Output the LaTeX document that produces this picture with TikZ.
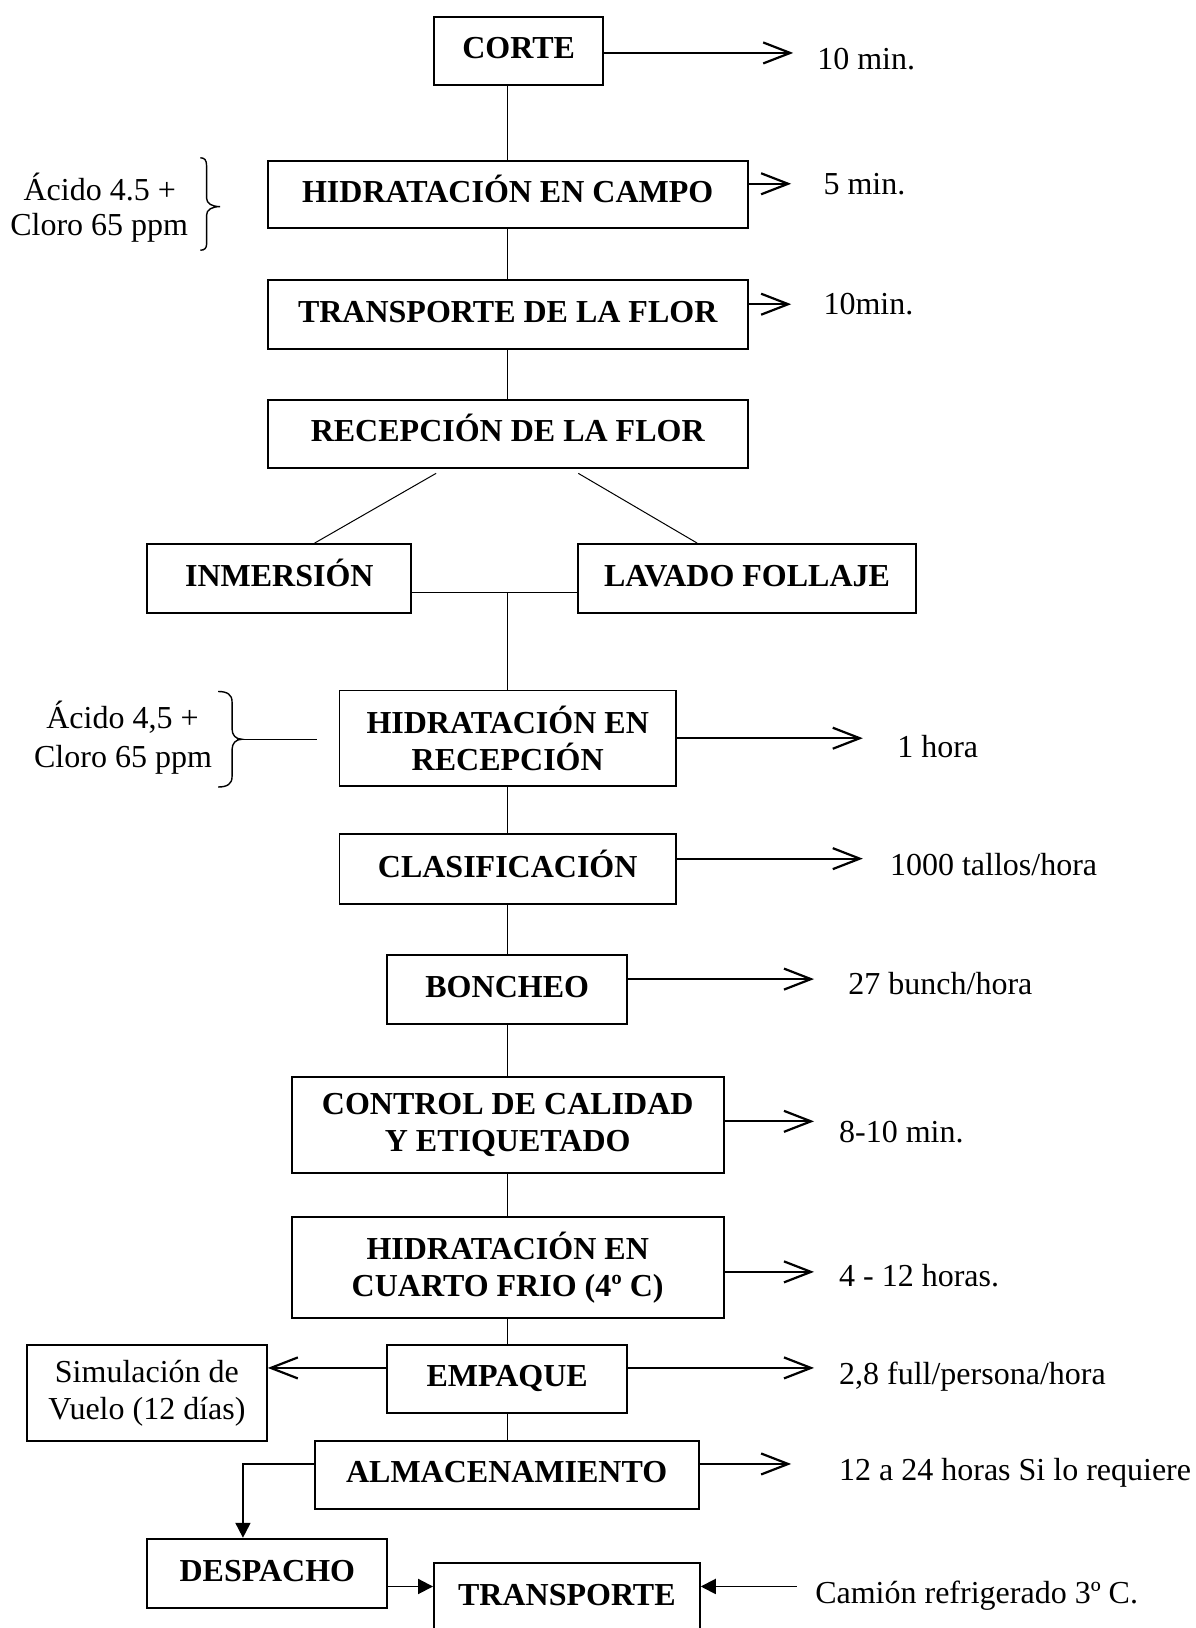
\documentclass[tikz,border=0pt]{standalone}
\usepackage{fontspec}
\setmainfont{Liberation Serif}
\usetikzlibrary{arrows.meta,calc}
\begin{document}
\begin{tikzpicture}[x=1.0382pt,y=-1.0382pt,
  box/.style={draw, line width=1.9pt, inner sep=0pt, align=center, font=\fontsize{32}{37}\selectfont\bfseries},
  bx/.style 2 args={box, minimum width=#1*1.0382pt, minimum height=#2*1.0382pt},
  sl/.style={text height=22pt, text depth=6pt},
  lbl/.style={inner sep=0pt, anchor=base west, font=\fontsize{32}{37}\selectfont},
  side/.style={inner sep=0pt, anchor=base, font=\fontsize{32}{37}\selectfont},
  conn/.style={line width=1pt},
  oarr/.style={line width=2.2pt, -{Straight Barb[length=27pt,width=21pt]}},
  farr/.style={line width=1.9pt, -{Triangle[length=15pt,width=15pt]}},
  brc/.style={line width=1.4pt}
]
\useasboundingbox (0,0) rectangle (1151,1568);
\clip (0,0) rectangle (1151,1568);

% boxes
\node[bx={163}{66}, sl] (corte) at (499.5,49) {CORTE};
\node[bx={462}{65}, sl] (hcampo) at (489,187.5) {HIDRATACIÓN EN CAMPO};
\node[bx={462}{66}, sl] (tflor) at (489,303) {TRANSPORTE DE LA FLOR};
\node[bx={462}{66}, sl] (recep) at (489,418) {RECEPCIÓN DE LA FLOR};
\node[bx={254}{66}, sl] (inm) at (269,557) {INMERSIÓN};
\node[bx={325}{66}, sl] (lav) at (719.5,557) {LAVADO FOLLAJE};
\node[bx={324}{92}] (hrec) at (489,711) {HIDRATACIÓN EN\\RECEPCIÓN};
\node[bx={324}{67}, sl] (clas) at (489,837) {CLASIFICACIÓN};
\node[bx={231}{66}, sl] (bonch) at (488.5,953) {BONCHEO};
\node[bx={416}{93}] (ctrl) at (489,1083.5) {CONTROL DE CALIDAD\\Y ETIQUETADO};
\node[bx={416}{97}] (hcuarto) at (489,1220.5) {HIDRATACIÓN EN\\CUARTO FRIO (4º C)};
\node[bx={231}{66}, sl] (emp) at (488.5,1328) {EMPAQUE};
\node[bx={231}{93}, font=\fontsize{32}{37}\selectfont\mdseries] (sim) at (141.5,1341.5) {Simulación de\\Vuelo (12 días)};
\node[bx={370}{65}, sl] (alm) at (488,1420.5) {ALMACENAMIENTO};
\node[bx={231}{67}, sl] (desp) at (257.5,1515.5) {DESPACHO};
\node[bx={256}{67}, sl] (transp) at (546,1538.5) {TRANSPORTE};

% main flow connectors
\draw[conn] (corte.south -| hcampo.north) -- (hcampo.north);
\draw[conn] (hcampo.south) -- (tflor.north);
\draw[conn] (tflor.south) -- (recep.north);
\draw[conn] ($(recep.south)+(-69,4)$) -- ($(inm.north)+(34,0)$);
\draw[conn] ($(recep.south)+(68,4)$) -- ($(lav.north)+(-48,0)$);
\coordinate (j) at (489,571);
\draw[conn] (inm.east |- j) -- (lav.west |- j);
\draw[conn] (j) -- (hrec.north);
\draw[conn] (hrec.south) -- (clas.north);
\draw[conn] (clas.south) -- (clas.south |- bonch.north);
\draw[conn] (clas.south |- bonch.south) -- (clas.south |- ctrl.north);
\draw[conn] (ctrl.south) -- (hcuarto.north);
\draw[conn] (hcuarto.south) -- (hcuarto.south |- emp.north);
\draw[conn] (hcuarto.south |- emp.south) -- (hcuarto.south |- alm.north);

% right arrows and labels
\coordinate (t1) at (764,51);
\draw[oarr] (corte.east |- t1) -- (t1);
\node[lbl] (l1) at (787,67) {10 min.};
\coordinate (t2) at (762,177);
\draw[oarr] (hcampo.east |- t2) -- (t2);
\node[lbl] (l2) at (793,187) {5 min.};
\coordinate (t3) at (762,293);
\draw[oarr] (tflor.east |- t3) -- (t3);
\node[lbl] (l3) at (793,303) {10min.};
\coordinate (t4) at (831,711);
\draw[oarr] (hrec.east |- t4) -- (t4);
\node[lbl] (l4) at (864,730) {1 hora};
\coordinate (t5) at (831,827);
\draw[oarr] (clas.east |- t5) -- (t5);
\node[lbl] (l5) at (857,843) {1000 tallos/hora};
\coordinate (t6) at (784,943);
\draw[oarr] (bonch.east |- t6) -- (t6);
\node[lbl] (l6) at (817,958) {27 bunch/hora};
\coordinate (t7) at (784,1080);
\draw[oarr] (ctrl.east |- t7) -- (t7);
\node[lbl] (l7) at (808,1100) {8-10 min.};
\coordinate (t8) at (784,1225);
\draw[oarr] (hcuarto.east |- t8) -- (t8);
\node[lbl] (l8) at (808,1239) {4 - 12 horas.};
\coordinate (t9) at (784,1317.5);
\draw[oarr] (emp.east |- t9) -- (t9);
\node[lbl] (l9) at (808,1333) {2,8 full/persona/hora};
\coordinate (t10) at (762,1410);
\draw[oarr] (alm.east |- t10) -- (t10);
\node[lbl] (l10) at (808,1426) {12 a 24 horas Si lo requiere};

% left arrow to simulation
\draw[oarr] (emp.west |- t9) -- (sim.east |- t9);

% dispatch arrows
\coordinate (c1) at (234,1410);
\draw[farr] (alm.west |- c1) -- (c1) -- (c1 |- desp.north);
\coordinate (c2) at (372,1528);
\draw[farr] (desp.east |- c2) -- (transp.west |- c2);
\coordinate (c3) at (767.5,1528);
\draw[farr] (c3) -- (transp.east |- c3);
\node[lbl] (l11) at (785,1544) {Camión refrigerado 3º C.};

% braces and side notes
\draw[brc] (193,152) .. controls (197,152) and (199,154) .. (199,160) -- (199,191)
  .. controls (199,196) and (204,199) .. (212,199)
  .. controls (204,199) and (199,202) .. (199,207) -- (199,235)
  .. controls (199,239) and (197,241) .. (193,241);
\node[side] (s1) at (96,193) {Ácido 4.5 +};
\node[side] (s2) at (95.5,227) {Cloro 65 ppm};

\draw[brc] (210,666) .. controls (219,666) and (223.5,669) .. (223.5,676) -- (223.5,702)
  .. controls (223.5,708) and (227,712) .. (233,712)
  .. controls (227,712) and (223.5,716) .. (223.5,722) -- (223.5,748)
  .. controls (223.5,755) and (219,758) .. (210,758);
\coordinate (b2) at (233,712);
\coordinate (b2e) at (305,712);
\draw[brc] (b2) -- (b2e);
\node[side] (s3) at (118,702) {Ácido 4,5 +};
\node[side] (s4) at (118.5,739) {Cloro 65 ppm};
\end{tikzpicture}
\end{document}
